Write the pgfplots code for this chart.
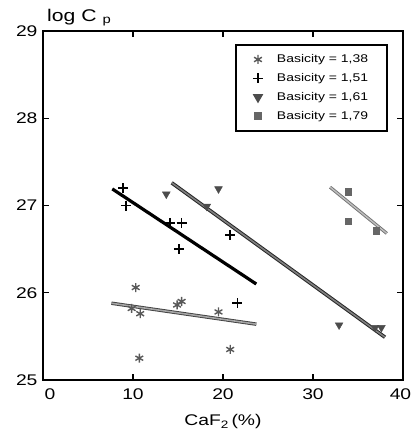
\documentclass[border=0pt]{standalone}
\usepackage{fontspec}
\setmainfont{Liberation Sans}[FakeStretch=1.25]
\usepackage{pgfplots}
\pgfplotsset{compat=1.18}
\begin{document}
\begin{tikzpicture}[x=1bp,y=1bp]
\begin{axis}[
  scale only axis, width=360bp, height=349bp,
  xmin=0, xmax=40, ymin=25, ymax=29,
  xtick={0,10,20,30,40}, ytick={25,26,27,28,29},
  xticklabels={\hspace*{14bp}0, 10, 20, 30, 40\hspace*{5bp}},
  tick align=inside, major tick length=6bp,
  every tick/.style={black, line width=1.2bp},
  axis line style={line width=2.6bp},
  /pgf/number format/assume math mode=true,
  ticklabel style={font=\fontsize{15.5}{17}\selectfont},
  xticklabel style={yshift=-5bp},
  yticklabel style={xshift=-2bp},
  xlabel={CaF\textsubscript{2}\,(\%)},
  xlabel style={font=\fontsize{15.5}{17}\selectfont, yshift=-8bp},
  legend style={at={(rel axis cs:0.958,0.963)}, anchor=north east,
     draw=black, line width=1.6bp, font=\fontsize{11.2}{13}\selectfont,
     inner xsep=17bp, inner ysep=8bp, row sep=5.3bp,
     /tikz/every odd column/.append style={column sep=12bp},
     nodes={line width=0.4bp}},
  legend image code/.code={\draw[#1] plot coordinates {(0.3cm,0cm)};},
  legend cell align=left,
  clip=false,
]
\addplot[only marks, mark=asterisk, mark size=4.5bp, draw=black!65, line width=1.4bp]
  coordinates {(10.3,26.06) (9.85,25.82) (10.8,25.76) (10.7,25.25) (14.9,25.86) (15.4,25.9) (19.5,25.78) (20.8,25.35)};
\addlegendentry{Basicity = 1,38}
\addplot[only marks, mark=+, mark size=5bp, draw=black, line width=1.7bp]
  coordinates {(8.9,27.2) (9.2,27.0) (14.1,26.8) (15.4,26.8) (15.1,26.5) (20.8,26.66) (21.6,25.88)};
\addlegendentry{Basicity = 1,51}
\addplot[only marks, mark=triangle*, mark size=4.5bp, mark options={rotate=180}, draw=black!70, fill=black!70]
  coordinates {(13.7,27.13) (19.5,27.19) (18.2,26.99) (32.9,25.63) (36.9,25.6) (37.6,25.6)};
\addlegendentry{Basicity = 1,61}
\addplot[only marks, mark=square*, mark size=3.3bp, draw=black!60, fill=black!60]
  coordinates {(33.9,27.16) (33.9,26.82) (37.0,26.71)};
\addlegendentry{Basicity = 1,79}
% fitted lines
\addplot[forget plot, draw=black!75, double=black!35, double distance=1.6bp, line width=0.9bp]
  coordinates {(7.6,25.88) (23.7,25.64)};
\addplot[forget plot, draw=black, line width=3.2bp]
  coordinates {(7.7,27.19) (23.7,26.1)};
\addplot[forget plot, draw=black!85, double=black!50, double distance=1.6bp, line width=1bp]
  coordinates {(14.3,27.26) (38.0,25.49)};
\addplot[forget plot, draw=black!55, double=black!25, double distance=1.4bp, line width=0.9bp]
  coordinates {(31.9,27.21) (38.2,26.68)};
\node[anchor=base west, font=\fontsize{17}{19}\selectfont, inner sep=0pt] at (rel axis cs:0.0,1.0) [yshift=10bp, xshift=4bp] {log C \textsubscript{p}};
\end{axis}
\pgfresetboundingbox
\path (-43bp,-54bp) rectangle (369bp,380bp);
\end{tikzpicture}
\end{document}
